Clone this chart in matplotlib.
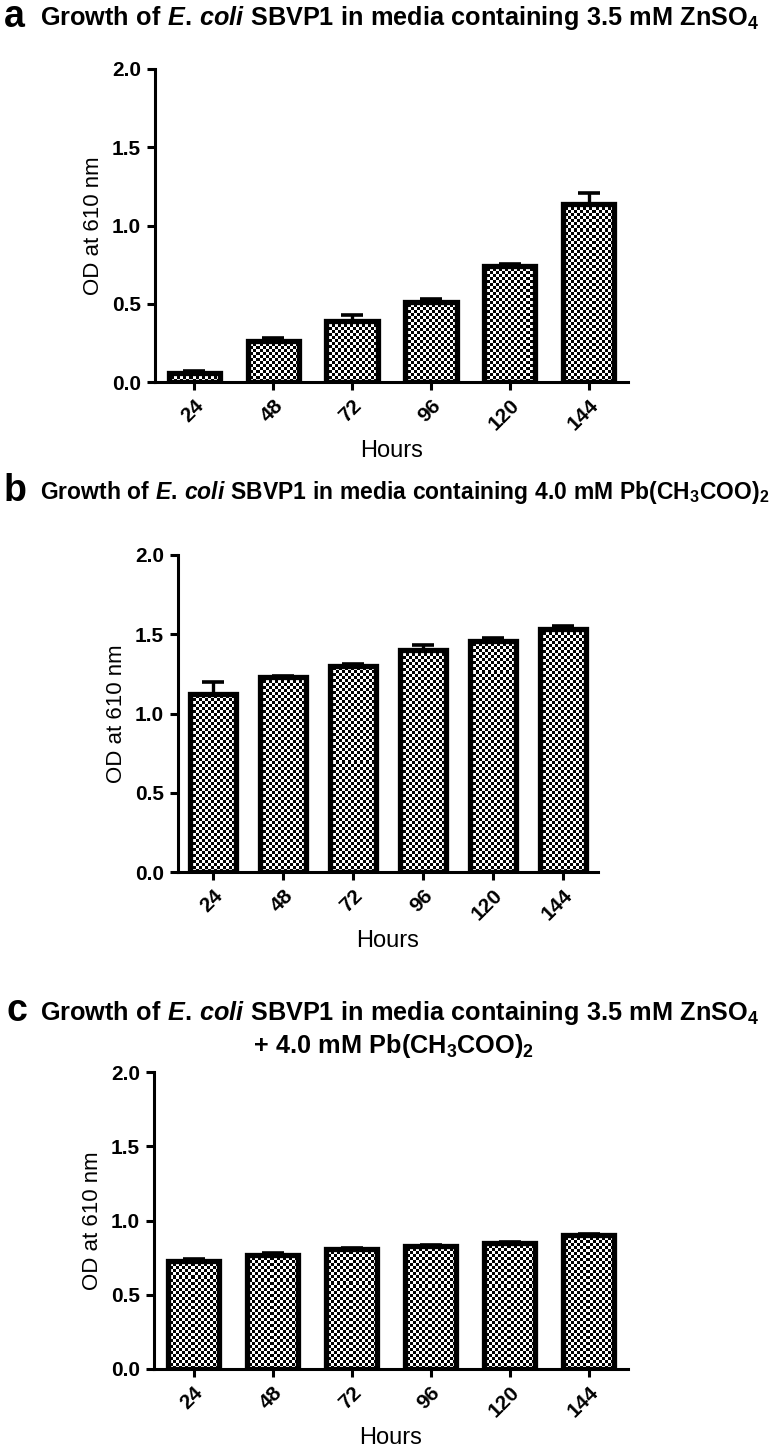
import numpy as np
import matplotlib
matplotlib.use("Agg")
import matplotlib.pyplot as plt
from matplotlib import font_manager

# data
hours = ["24", "48", "72", "96", "120", "144"]

od_zn = [0.06, 0.26, 0.39, 0.51, 0.74, 1.14]
err_zn = [0.01, 0.02, 0.035, 0.02, 0.015, 0.07]

od_pb = [1.12, 1.23, 1.30, 1.40, 1.46, 1.53]
err_pb = [0.08, 0.006, 0.012, 0.03, 0.015, 0.025]

od_mix = [0.73, 0.77, 0.81, 0.83, 0.85, 0.90]
err_mix = [0.012, 0.01, 0.008, 0.005, 0.006, 0.01]

# fonts
try:
    font_manager.findfont("Liberation Sans Narrow", fallback_to_default=False)
    title_font = "Liberation Sans Narrow"
except Exception:
    title_font = "Liberation Sans"

plt.rcParams["font.family"] = ["Liberation Sans", "DejaVu Sans"]
plt.rcParams["mathtext.fontset"] = "custom"
plt.rcParams["mathtext.rm"] = title_font + ":bold"
plt.rcParams["mathtext.bf"] = title_font + ":bold"
plt.rcParams["mathtext.it"] = title_font + ":bold:italic"
if "mathtext.bfit" in plt.rcParams:
    plt.rcParams["mathtext.bfit"] = title_font + ":bold:italic"

W, H = 774, 1449
fig = plt.figure(figsize=(W / 100, H / 100), dpi=100)


def px_axes(left, top, right, bottom):
    return fig.add_axes([left / W, 1 - bottom / H, (right - left) / W, (bottom - top) / H])


def checker_fill(ax, bar, cell=3):
    # fill a bar with a fine black/white checkerboard, snapped to pixels
    x0, y0 = bar.get_x(), bar.get_y()
    x1, y1 = x0 + bar.get_width(), y0 + bar.get_height()
    (px0, py0), (px1, py1) = ax.transData.transform([(x0, y0), (x1, y1)])
    px0, py0, px1, py1 = np.floor(px0), np.floor(py0), np.ceil(px1), np.ceil(py1)
    nx = max(int((px1 - px0) // cell) + 1, 1)
    ny = max(int((py1 - py0) // cell) + 1, 1)
    px1 = px0 + nx * cell
    py1 = py0 + ny * cell
    inv = ax.transData.inverted()
    (dx0, dy0), (dx1, dy1) = inv.transform([(px0, py0), (px1, py1)])
    ii, jj = np.indices((ny, nx))
    pattern = (ii + jj) % 2
    im = ax.imshow(pattern, cmap="gray", extent=(dx0, dx1, dy0, dy1),
                   interpolation="nearest", aspect="auto", origin="lower", zorder=1)
    im.set_clip_path(bar)


def panel(ax, values, errors):
    x = np.arange(len(hours))
    ax.set_xlim(-0.5, len(hours) - 0.5)
    ax.set_ylim(0, 2.0)
    ax.errorbar(x, values, yerr=[np.zeros(len(x)), errors], fmt="none",
                ecolor="black", elinewidth=2.4, capsize=8, capthick=2.6, zorder=2)
    bars = ax.bar(x, values, width=0.65, facecolor="none", edgecolor="black",
                  linewidth=3.8, zorder=3)
    for b in bars:
        checker_fill(ax, b)
    ax.set_xlim(-0.5, len(hours) - 0.5)
    ax.set_ylim(0, 2.0)
    ax.set_xticks(x)
    ax.set_xticklabels(hours, rotation=45, ha="right", rotation_mode="anchor",
                       fontsize=15, fontweight="bold")
    ax.set_yticks([0, 0.5, 1.0, 1.5, 2.0])
    ax.set_yticklabels(["0.0", "0.5", "1.0", "1.5", "2.0"], fontsize=15, fontweight="bold")
    ax.tick_params(direction="out", length=6, width=2.2, pad=4)
    for s in ["top", "right"]:
        ax.spines[s].set_visible(False)
    for s in ["left", "bottom"]:
        ax.spines[s].set_linewidth(2.2)
    ax.set_ylabel("OD at 610 nm", fontsize=16, labelpad=6)
    ax.set_xlabel("Hours", fontsize=17, labelpad=4)


ax_a = px_axes(155, 69, 628, 382)
panel(ax_a, od_zn, err_zn)
ax_b = px_axes(178, 555, 598, 872)
panel(ax_b, od_pb, err_pb)
ax_c = px_axes(154, 1072, 628, 1369)
panel(ax_c, od_mix, err_mix)

scale = 1.25 if title_font.endswith("Narrow") else 1.0
letter_kw = dict(fontsize=27, fontweight="bold", va="center", ha="left")

fig.text(4 / W, 1 - 17 / H, "a", **letter_kw)
fig.text(40 / W, 1 - 18 / H,
         r"$\mathbf{Growth\ of\ }\mathit{E.\,coli}\mathbf{\ SBVP1\ in\ media\ containing\ 3.5\ mM\ ZnSO_4}$",
         fontsize=18.2 * scale, va="center", ha="left")

fig.text(4 / W, 1 - 491 / H, "b", **letter_kw)
fig.text(40 / W, 1 - 493 / H,
         r"$\mathbf{Growth\ of\ }\mathit{E.\,coli}\mathbf{\ SBVP1\ in\ media\ containing\ 4.0\ mM\ Pb(CH_3COO)_2}$",
         fontsize=16.5 * scale, va="center", ha="left")

fig.text(6 / W, 1 - 1011 / H, "c", **letter_kw)
fig.text(40 / W, 1 - 1013 / H,
         r"$\mathbf{Growth\ of\ }\mathit{E.\,coli}\mathbf{\ SBVP1\ in\ media\ containing\ 3.5\ mM\ ZnSO_4}$",
         fontsize=18.2 * scale, va="center", ha="left")
fig.text(393 / W, 1 - 1046 / H,
         r"$\mathbf{+\ 4.0\ mM\ Pb(CH_3COO)_2}$",
         fontsize=18.2 * scale, va="center", ha="center")

fig.savefig("out.png", dpi=100)
